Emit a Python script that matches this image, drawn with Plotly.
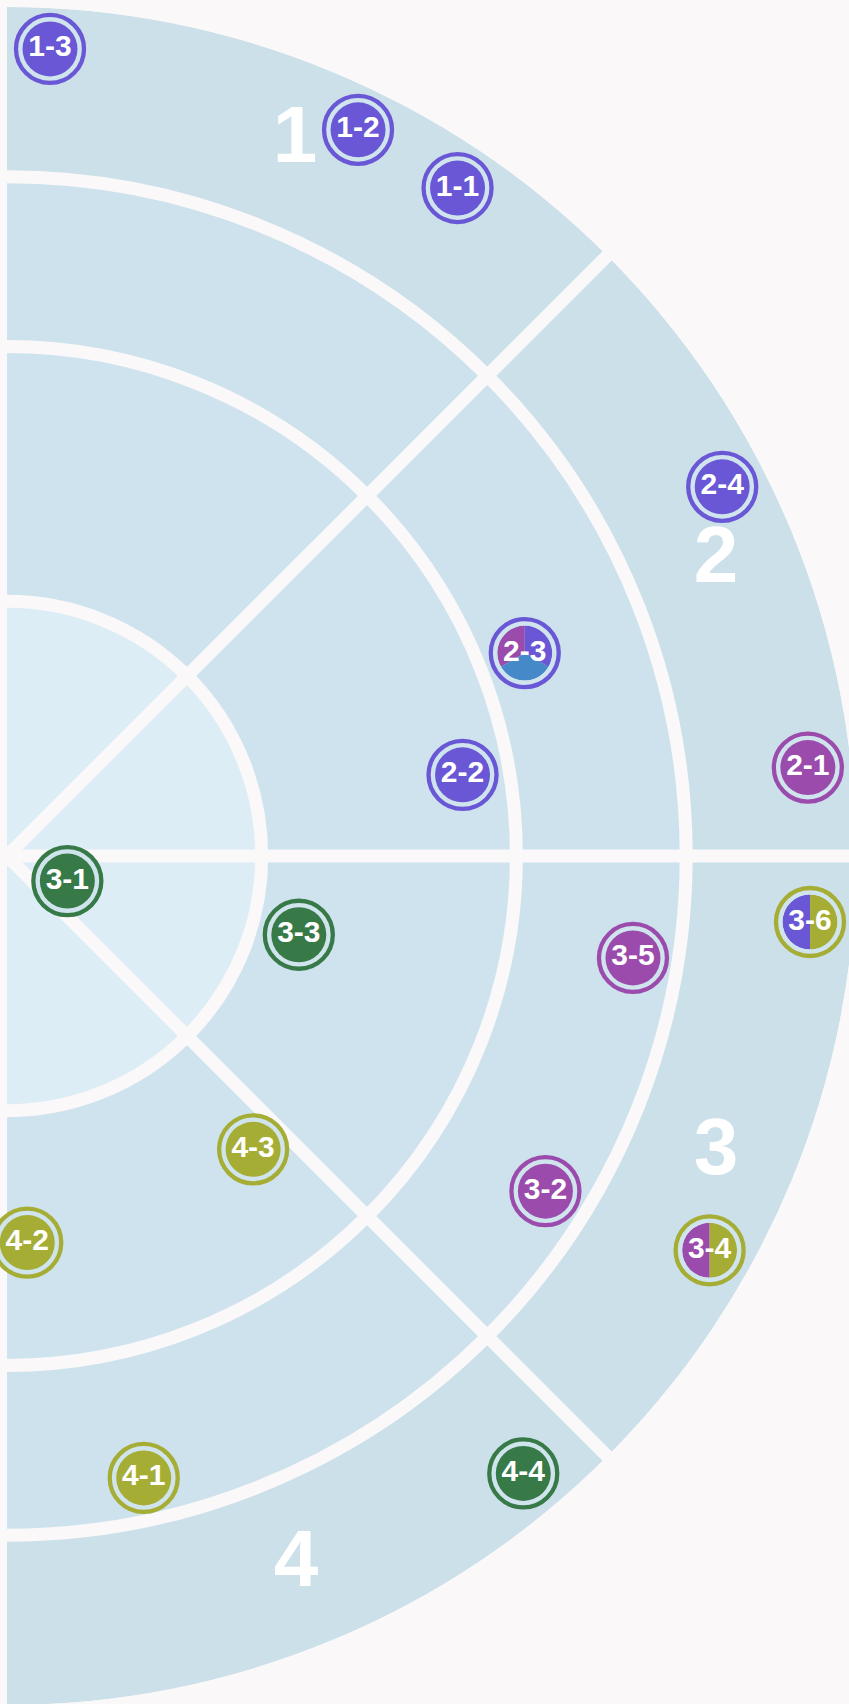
import math
import plotly.graph_objects as go

# ---------------- data ----------------
point_labels = ["1-1", "1-2", "1-3", "2-1", "2-2", "2-3", "2-4", "3-1", "3-2",
                "3-3", "3-4", "3-5", "3-6", "4-1", "4-2", "4-3", "4-4"]
point_r = [94.9, 95.0, 95.2, 94.9, 54.5, 65.5, 94.8, 7.7, 74.7,
           35.6, 94.9, 74.7, 94.9, 75.0, 45.6, 45.1, 94.8]
point_theta = [56.0, 64.2, 86.95, 6.3, 10.1, 21.4, 27.3, -22.6, -31.9,
               -15.1, -29.3, -9.25, -4.7, -77.6, -87.0, -50.0, -50.1]
ring_group = ["A", "A", "A", "B", "A", "A", "A", "C", "B",
              "C", "D", "B", "D", "D", "D", "D", "C"]
# inner fill categories (equal shares, counter-clockwise starting at 12 o'clock)
fill_groups = [["A"], ["A"], ["A"], ["B"], ["A"], ["B", "E", "A"], ["A"], ["C"], ["B"],
               ["C"], ["B", "D"], ["B"], ["A", "D"], ["D"], ["D"], ["D"], ["C"]]

sector_labels = ["1", "2", "3", "4"]
sector_r = [90.74, 90.40, 90.61, 90.34]
sector_theta = [68.04, 22.52, -22.83, -67.86]

band_edges = [0, 30, 60, 80, 100]
spoke_angles = [-45, 0, 45]

# ---------------- style ----------------
palette = {"A": "#6957d6", "B": "#9b4bab", "C": "#377a48", "D": "#a6ad35", "E": "#4689c8"}
band_colors = ["#ddedf5", "#cfe3ee", "#cde2ec", "#cce0ea"]
BG = "#faf8f9"
GAP = "#d0e4ee"
VIEW_W, VIEW_H = 849, 1704
W, H = 856, 1705
M = dict(l=7, r=0, t=7, b=0)
PW = W - M["l"] - M["r"]
PH = H - M["t"] - M["b"]
R_PX = min(PW, PH / 2)
FONT = "Liberation Sans, Arial, sans-serif"

fig = go.Figure()

# background bands (bottom polar)
fig.add_trace(go.Barpolar(
    r=[band_edges[i + 1] - band_edges[i] for i in range(len(band_colors))],
    base=band_edges[:-1],
    theta=[0] * len(band_colors),
    width=[180] * len(band_colors),
    marker=dict(color=band_colors, line=dict(width=0)),
    subplot="polar", hoverinfo="skip", showlegend=False,
))

# outer ring + gap
fig.add_trace(go.Scatterpolar(
    r=point_r, theta=point_theta, mode="markers",
    marker=dict(size=68, color=GAP,
                line=dict(color=[palette[g] for g in ring_group], width=4.3)),
    subplot="polar2", hoverinfo="skip", showlegend=False, cliponaxis=False,
))
# inner fill
fig.add_trace(go.Scatterpolar(
    r=point_r, theta=point_theta, mode="markers",
    marker=dict(size=55, color=[palette[f[0]] if len(f) == 1 else GAP for f in fill_groups],
                line=dict(width=0)),
    subplot="polar2", hoverinfo="skip", showlegend=False, cliponaxis=False,
))
# labels of single-colour markers
single = [i for i, f in enumerate(fill_groups) if len(f) == 1]
fig.add_trace(go.Scatterpolar(
    r=[point_r[i] for i in single], theta=[point_theta[i] for i in single],
    text=[point_labels[i] for i in single], mode="text",
    textposition="middle center",
    textfont=dict(family=FONT, size=30, color="white", weight="bold"),
    subplot="polar2", hoverinfo="skip", showlegend=False, cliponaxis=False,
))
# sector labels
fig.add_trace(go.Scatterpolar(
    r=sector_r, theta=sector_theta, text=sector_labels, mode="text",
    textposition="middle center",
    textfont=dict(family=FONT, size=80, color="white", weight="bold"),
    subplot="polar2", hoverinfo="skip", showlegend=False,
))

layout_extra = {}
half_x = 27.5 / PW
half_y = 27.5 / PH
k = 3
for i, f in enumerate(fill_groups):
    if len(f) == 1:
        continue
    name = f"polar{k}"
    n = len(f)
    step = 360 / n
    fig.add_trace(go.Barpolar(
        r=[1] * n,
        theta=[90 + (j + 0.5) * step for j in range(n)],
        width=[step] * n,
        marker=dict(color=[palette[c] for c in f], line=dict(width=0)),
        subplot=name, hoverinfo="skip", showlegend=False,
    ))
    fig.add_trace(go.Scatterpolar(
        r=[0], theta=[0], text=[point_labels[i]], mode="text",
        textposition="middle center",
        textfont=dict(family=FONT, size=30, color="white", weight="bold"),
        subplot=name, hoverinfo="skip", showlegend=False, cliponaxis=False,
    ))
    cx = point_r[i] / 100 * math.cos(math.radians(point_theta[i])) * R_PX / PW
    cy = 0.5 + point_r[i] / 100 * math.sin(math.radians(point_theta[i])) * R_PX / PH
    layout_extra[name] = dict(
        domain=dict(x=[cx - half_x, cx + half_x], y=[cy - half_y, cy + half_y]),
        bgcolor="rgba(0,0,0,0)",
        radialaxis=dict(range=[0, 1], visible=False),
        angularaxis=dict(visible=False),
    )
    k += 1

fig.update_layout(
    width=W, height=H,
    margin=dict(**M, pad=0),
    paper_bgcolor=BG, plot_bgcolor=BG,
    template="none",
    showlegend=False,
    polar=dict(
        domain=dict(x=[0, 1], y=[0, 1]),
        sector=[-90, 90],
        bgcolor="rgba(0,0,0,0)",
        radialaxis=dict(range=[0, 100], visible=False),
        angularaxis=dict(visible=False),
    ),
    polar2=dict(
        domain=dict(x=[0, 1], y=[0, 1]),
        sector=[-90, 90],
        bgcolor="rgba(0,0,0,0)",
        radialaxis=dict(range=[0, 100], tickmode="array", tickvals=band_edges[1:-1],
                        showgrid=True, gridcolor=BG, gridwidth=13,
                        showline=False, showticklabels=False, ticks=""),
        angularaxis=dict(tickmode="array", tickvals=spoke_angles,
                         showgrid=True, gridcolor=BG, gridwidth=13,
                         showline=False, showticklabels=False, ticks=""),
    ),
    **layout_extra,
)

fig.write_html(
    "out.html",
    config={"displayModeBar": False},
    post_script=(
        "var gd=document.getElementById('{plot_id}');"
        f"gd.style.width='{VIEW_W}px';gd.style.height='{VIEW_H}px';gd.style.overflow='hidden';"
        "if(gd.parentNode){gd.parentNode.style.overflow='hidden';}"
        "document.body.style.margin='0';"
        f"document.body.style.background='{BG}';"
        "document.documentElement.style.overflow='hidden';"
    ),
)
